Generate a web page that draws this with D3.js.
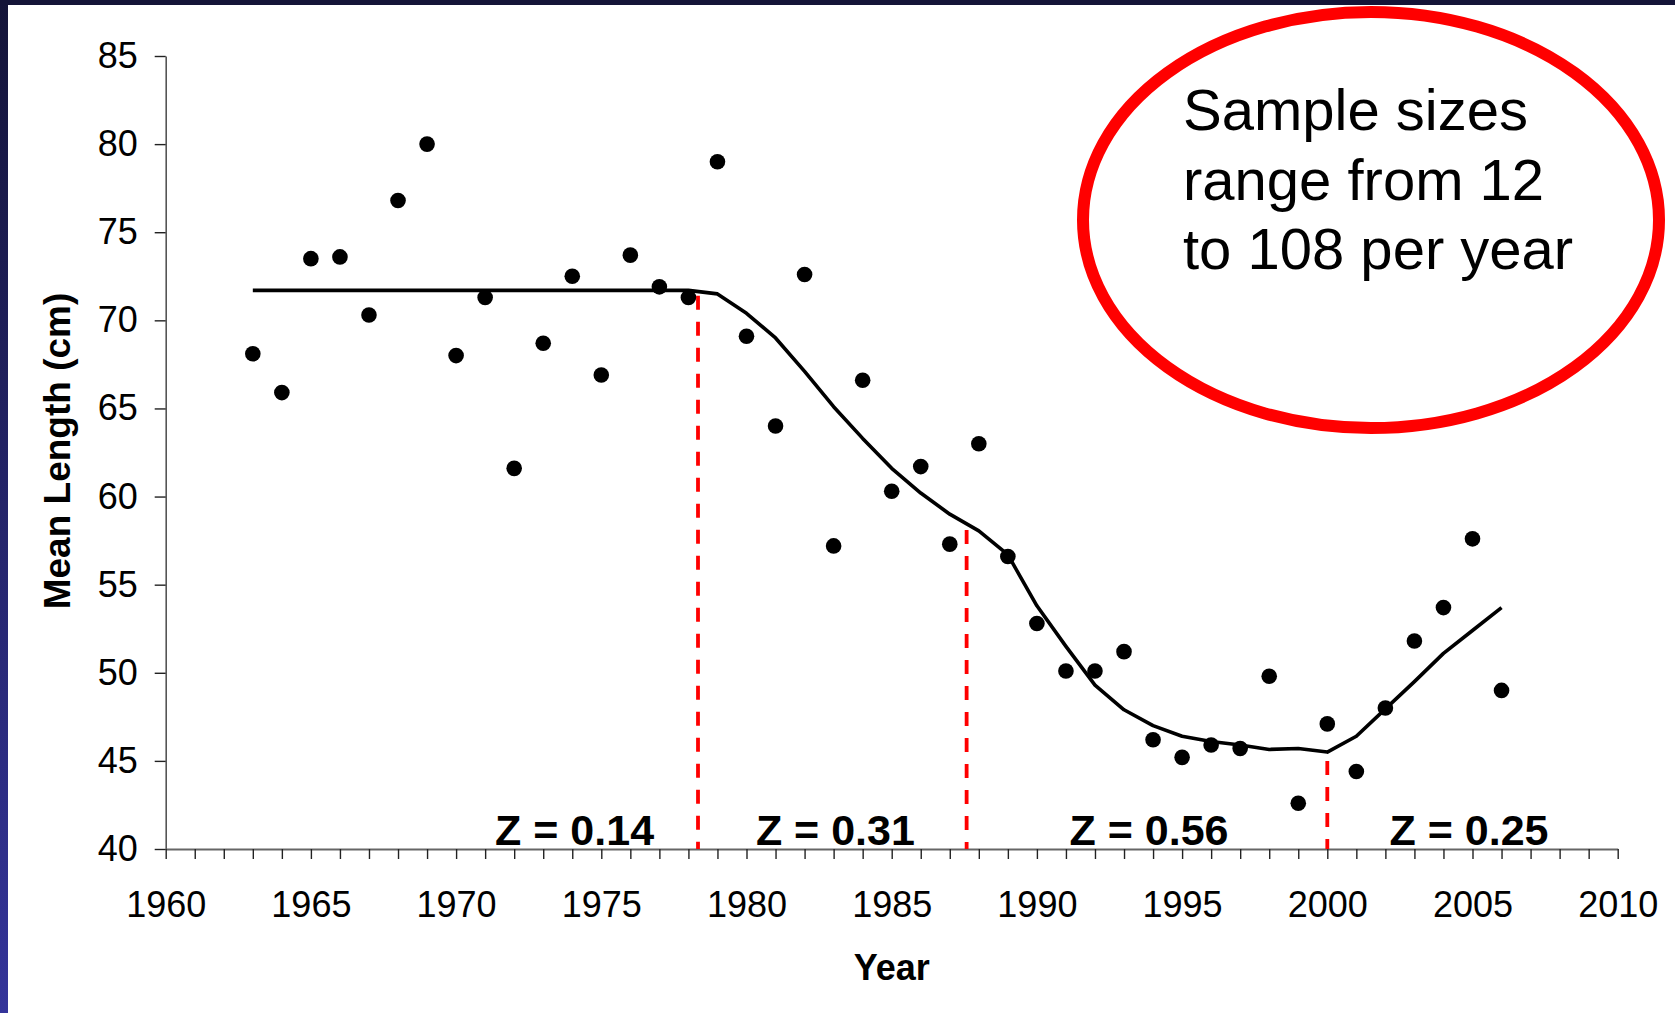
<!DOCTYPE html>
<html>
<head>
<meta charset="utf-8">
<script src="https://cdn.jsdelivr.net/npm/d3@7"></script>
<style>
  body { margin: 0; background: #fff; }
  svg { display: block; font-family: "Liberation Sans", Arial, sans-serif; }
</style>
</head>
<body>
<svg id="chart" width="1675" height="1013"></svg>
<script>
// observed mean length per year
const years = [1963, 1964, 1965, 1966, 1967, 1968, 1969, 1970, 1971, 1972, 1973,
  1974, 1975, 1976, 1977, 1978, 1979, 1980, 1981, 1982, 1983, 1984, 1985, 1986,
  1987, 1988, 1989, 1990, 1991, 1992, 1993, 1994, 1995, 1996, 1997, 1998, 1999,
  2000, 2001, 2002, 2003, 2004, 2005, 2006];

const meanLength = [68.1, 65.9, 73.5, 73.6, 70.3, 76.8, 80.0, 68.0, 71.3, 61.6,
  68.7, 72.5, 66.9, 73.7, 71.9, 71.3, 79.0, 69.1, 64.0, 72.6, 57.2, 66.6, 60.3,
  61.7, 57.3, 63.0, 56.6, 52.8, 50.1, 50.1, 51.2, 46.2, 45.2, 45.9, 45.7, 49.8,
  42.6, 47.1, 44.4, 48.0, 51.8, 53.7, 57.6, 49.0];

// model fit
const fitted = [71.7, 71.7, 71.7, 71.7, 71.7, 71.7, 71.7, 71.7, 71.7, 71.7, 71.7,
  71.7, 71.7, 71.7, 71.7, 71.7, 71.5, 70.4, 69.0, 67.1, 65.1, 63.3, 61.6, 60.2,
  59.0, 58.05, 56.7, 53.8, 51.5, 49.3, 47.9, 47.0, 46.4, 46.1, 45.9, 45.65, 45.7,
  45.5, 46.4, 47.95, 49.5, 51.1, 52.4, 53.7];

// change points (year, fitted value at the break)
const breakYears = [1978.33, 1987.58, 2000.0];
const breakTops = [71.4, 58.1, 45.0];

// mortality labels and where they sit along the year axis
const zLabels = ["Z = 0.14", "Z = 0.31", "Z = 0.56", "Z = 0.25"];
const zLabelYears = [1974.08, 1983.06, 1993.86, 2004.88];

const yTicks = [40, 45, 50, 55, 60, 65, 70, 75, 80, 85];
const xTicks = [1960, 1965, 1970, 1975, 1980, 1985, 1990, 1995, 2000, 2005, 2010];

const noteLines = ["Sample sizes", "range from 12", "to 108 per year"];

const svg = d3.select("#chart");
const width = +svg.attr("width");
const height = +svg.attr("height");

// slide frame: dark top band and gradient left band
const defs = svg.append("defs");
const grad = defs.append("linearGradient")
  .attr("id", "sideGrad")
  .attr("x1", 0).attr("y1", 0).attr("x2", 0).attr("y2", 1);
grad.append("stop").attr("offset", "0%").attr("stop-color", "#141438");
grad.append("stop").attr("offset", "100%").attr("stop-color", "#34349a");

svg.append("rect").attr("width", width).attr("height", height).attr("fill", "#fff");
svg.append("rect").attr("x", 0).attr("y", 0).attr("width", 8).attr("height", height)
  .attr("fill", "url(#sideGrad)");
svg.append("rect").attr("x", 0).attr("y", 0).attr("width", width).attr("height", 5)
  .attr("fill", "#141438");

const x = d3.scaleLinear().domain([1960, 2010]).range([165.7, 1617.7]);
const y = d3.scaleLinear().domain([40, 85]).range([849, 56]);

// y axis
const yAxis = svg.append("g")
  .attr("transform", `translate(${x(1960)},0)`)
  .call(d3.axisLeft(y).tickValues(yTicks).tickSize(11).tickPadding(17).tickSizeOuter(0));
yAxis.select(".domain").attr("stroke", "#555").attr("stroke-width", 1.6);
yAxis.selectAll(".tick line").attr("stroke", "#222").attr("stroke-width", 1.4);
yAxis.selectAll(".tick text")
  .attr("font-size", 36)
  .attr("font-family", "'Liberation Sans', Arial, sans-serif")
  .attr("fill", "#000");

// x axis: yearly minor ticks, labels every 5
const xAxis = svg.append("g")
  .attr("transform", `translate(0,${y(40)})`)
  .call(d3.axisBottom(x).ticks(50).tickSize(10).tickSizeOuter(0)
    .tickFormat(d => (xTicks.includes(d) ? d : "")).tickPadding(32));
xAxis.select(".domain").attr("stroke", "#666").attr("stroke-width", 2.2);
xAxis.selectAll(".tick line").attr("stroke", "#222").attr("stroke-width", 1.4);
xAxis.selectAll(".tick text")
  .attr("font-size", 36)
  .attr("font-family", "'Liberation Sans', Arial, sans-serif")
  .attr("fill", "#000");

// axis titles
svg.append("text")
  .attr("x", x(1985))
  .attr("y", 980)
  .attr("text-anchor", "middle")
  .attr("font-size", 36)
  .attr("font-weight", "bold")
  .text("Year");

svg.append("text")
  .attr("transform", `translate(70,451) rotate(-90)`)
  .attr("text-anchor", "middle")
  .attr("font-size", 37)
  .attr("font-weight", "bold")
  .text("Mean Length (cm)");

// change point markers
svg.append("g").selectAll("line")
  .data(breakYears)
  .join("line")
  .attr("x1", d => x(d))
  .attr("x2", d => x(d))
  .attr("y1", (d, i) => y(breakTops[i]))
  .attr("y2", y(40))
  .attr("stroke", "#ff0000")
  .attr("stroke-width", 3.8)
  .attr("stroke-dasharray", "14,12");

// fitted line
const line = d3.line()
  .x((d, i) => x(years[i]))
  .y(d => y(d));

svg.append("path")
  .datum(fitted)
  .attr("d", line)
  .attr("fill", "none")
  .attr("stroke", "#000")
  .attr("stroke-width", 3.6)
  .attr("stroke-linejoin", "round");

// observations
svg.append("g").selectAll("circle")
  .data(meanLength)
  .join("circle")
  .attr("cx", (d, i) => x(years[i]))
  .attr("cy", d => y(d))
  .attr("r", 7.8)
  .attr("fill", "#000");

// Z labels
svg.append("g").selectAll("text")
  .data(zLabels)
  .join("text")
  .attr("x", (d, i) => x(zLabelYears[i]))
  .attr("y", y(40) - 4)
  .attr("text-anchor", "middle")
  .attr("font-size", 43)
  .attr("font-weight", "bold")
  .text(d => d);

// sample size note
svg.append("ellipse")
  .attr("cx", 1371)
  .attr("cy", 220)
  .attr("rx", 288)
  .attr("ry", 208)
  .attr("fill", "none")
  .attr("stroke", "#ff0000")
  .attr("stroke-width", 12);

svg.append("g").selectAll("text")
  .data(noteLines)
  .join("text")
  .attr("x", 1183)
  .attr("y", (d, i) => 130 + i * 69.5)
  .attr("font-size", 58)
  .text(d => d);
</script>
</body>
</html>
